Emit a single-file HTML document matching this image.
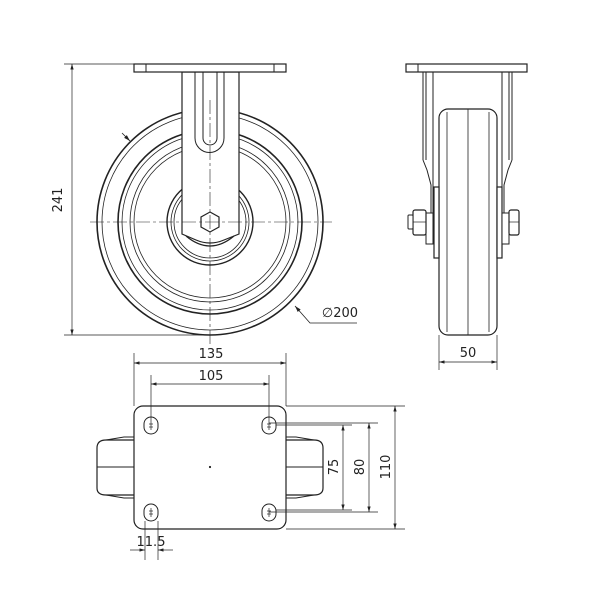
<!DOCTYPE html>
<html><head><meta charset="utf-8"><style>
html,body{margin:0;padding:0;background:#fff;}
svg{display:block;}
text{font-family:"DejaVu Sans","Liberation Sans",sans-serif;font-size:13px;fill:#222;}
</style></head><body>
<svg width="600" height="600" viewBox="0 0 600 600" xmlns="http://www.w3.org/2000/svg">
<defs>
<marker id="a" viewBox="0 0 10 6" refX="10" refY="3" markerWidth="8" markerHeight="5" orient="auto-start-reverse"><path d="M0,0 L10,3 L0,6 z" fill="#222"/></marker>
</defs>
<g fill="none" stroke="#222" stroke-width="1">
<!-- FRONT VIEW -->
<circle cx="210" cy="222" r="113" stroke-width="1.6"/>
<circle cx="210" cy="222" r="108" stroke-width="0.8"/>
<circle cx="210" cy="222" r="92" stroke-width="1.6"/>
<circle cx="210" cy="222" r="88" stroke-width="0.8"/>
<circle cx="210" cy="222" r="80" stroke-width="0.8"/>
<circle cx="210" cy="222" r="76" stroke-width="0.8"/>
<circle cx="210" cy="222" r="43" stroke-width="1.4"/>
<circle cx="210" cy="222" r="39" stroke-width="0.8"/>
<circle cx="210" cy="222" r="36" stroke-width="0.8"/>
<!-- fork (covers wheel) -->
<path d="M182,72 L182,234 L196,240 Q210,246 224,240 L239,234 L239,72 Z" fill="#fff" stroke-width="1.2"/>
<path d="M186,236 Q210,256 234,236" stroke-width="1.2"/>
<path d="M195,72 L195,138 A14.5,14.5 0 0 0 224,138 L224,72" stroke-width="1"/>
<path d="M203,72 L203,138 A7,7 0 0 0 217,138 L217,72" stroke-width="1"/>
<rect x="134" y="64" width="152" height="8" fill="#fff" stroke-width="1.2"/>
<line x1="146" y1="64" x2="146" y2="72"/><line x1="274" y1="64" x2="274" y2="72"/>
<polygon points="210,212 219,217 219,227 210,232 201,227 201,217" fill="#fff" stroke-width="1.2"/>
<!-- center lines -->
<line x1="90" y1="222" x2="332" y2="222" stroke-width="0.6" stroke-dasharray="14,3,3,3"/>
<line x1="210" y1="100" x2="210" y2="345" stroke-width="0.6" stroke-dasharray="14,3,3,3"/>
<!-- 241 dim -->
<line x1="64" y1="64" x2="134" y2="64" stroke-width="0.7"/>
<line x1="64" y1="335" x2="210" y2="335" stroke-width="0.7"/>
<line x1="72" y1="64" x2="72" y2="335" stroke-width="0.7" marker-start="url(#a)" marker-end="url(#a)"/>
<!-- Ø200 leader -->
<line x1="122" y1="133" x2="130" y2="141" stroke-width="0.8" marker-end="url(#a)"/>
<polyline points="295,306 310,323 357,323" stroke-width="0.8" marker-start="url(#a)"/>
<!-- SIDE VIEW -->
<line x1="423" y1="72" x2="423" y2="160"/><line x1="426" y1="72" x2="426" y2="160"/>
<path d="M423,160 L427,170 L431,185 L431,242 L433,242"/>
<line x1="433" y1="72" x2="433" y2="242"/>
<line x1="512" y1="72" x2="512" y2="160"/><line x1="509" y1="72" x2="509" y2="160"/>
<path d="M512,160 L508,170 L504,185 L504,242 L502,242"/>
<line x1="502" y1="72" x2="502" y2="242"/>
<rect x="406" y="64" width="121" height="8" fill="#fff" stroke-width="1.2"/>
<line x1="418" y1="64" x2="418" y2="72"/>
<rect x="439" y="109" width="58" height="226" rx="9" fill="#fff" stroke-width="1.2"/>
<line x1="447" y1="112" x2="447" y2="332" stroke-width="0.8"/>
<line x1="489" y1="112" x2="489" y2="332" stroke-width="0.8"/>
<line x1="468" y1="109" x2="468" y2="335" stroke-width="0.8"/>
<rect x="434" y="187" width="5" height="71" fill="#fff" stroke-width="1.2"/>
<rect x="497" y="187" width="5" height="71" fill="#fff" stroke-width="1.2"/>
<rect x="426" y="213" width="7" height="31" fill="#fff"/>
<rect x="413" y="210" width="13" height="25" rx="2" fill="#fff" stroke-width="1.2"/>
<line x1="413" y1="222" x2="426" y2="222" stroke-width="0.7"/>
<rect x="408" y="215" width="5" height="14" rx="1" fill="#fff"/>
<rect x="502" y="213" width="7" height="31" fill="#fff"/>
<rect x="509" y="210" width="10" height="25" rx="2" fill="#fff" stroke-width="1.2"/>
<line x1="509" y1="222" x2="519" y2="222" stroke-width="0.7"/>
<!-- 50 dim -->
<line x1="439" y1="335" x2="439" y2="370" stroke-width="0.7"/>
<line x1="497" y1="335" x2="497" y2="370" stroke-width="0.7"/>
<line x1="439" y1="362" x2="497" y2="362" stroke-width="0.7" marker-start="url(#a)" marker-end="url(#a)"/>
<!-- BOTTOM VIEW -->
<path d="M134,440 L106,440 Q97,440 97,448 L97,488 Q97,495 106,495 L134,495" stroke-width="1.2"/>
<path d="M106,440 L124,437 L134,437"/><path d="M106,495 L124,498 L134,498"/>
<line x1="97" y1="467" x2="134" y2="467"/>
<path d="M286,440 L314,440 Q323,440 323,448 L323,488 Q323,495 314,495 L286,495" stroke-width="1.2"/>
<path d="M314,440 L296,437 L286,437"/><path d="M314,495 L296,498 L286,498"/>
<line x1="286" y1="467" x2="323" y2="467"/>
<rect x="134" y="406" width="152" height="123" rx="9" fill="#fff" stroke-width="1.2"/>
<g stroke-width="1">
<rect x="144" y="417" width="14" height="17" rx="7"/>
<rect x="262" y="417" width="14" height="17" rx="7"/>
<rect x="144" y="504" width="14" height="17" rx="7"/>
<rect x="262" y="504" width="14" height="17" rx="7"/>
</g>
<g stroke-width="0.7">
<line x1="151" y1="421" x2="151" y2="430"/><line x1="149" y1="424" x2="153" y2="424"/><line x1="149" y1="427" x2="153" y2="427"/>
<line x1="269" y1="421" x2="269" y2="430"/><line x1="267" y1="424" x2="271" y2="424"/><line x1="267" y1="427" x2="271" y2="427"/>
<line x1="151" y1="508" x2="151" y2="517"/><line x1="149" y1="511" x2="153" y2="511"/><line x1="149" y1="514" x2="153" y2="514"/>
<line x1="269" y1="508" x2="269" y2="517"/><line x1="267" y1="511" x2="271" y2="511"/><line x1="267" y1="514" x2="271" y2="514"/>
</g>
<circle cx="210" cy="467" r="0.6" fill="#222"/>
<!-- 135 / 105 -->
<g stroke-width="0.7">
<line x1="134" y1="353" x2="134" y2="406"/><line x1="286" y1="353" x2="286" y2="406"/>
<line x1="134" y1="363" x2="286" y2="363" marker-start="url(#a)" marker-end="url(#a)"/>
<line x1="151" y1="375" x2="151" y2="421"/><line x1="269" y1="375" x2="269" y2="421"/>
<line x1="151" y1="384" x2="269" y2="384" marker-start="url(#a)" marker-end="url(#a)"/>
<!-- 110/80/75 -->
<line x1="286" y1="406" x2="405" y2="406"/><line x1="286" y1="529" x2="405" y2="529"/>
<line x1="395" y1="406" x2="395" y2="529" marker-start="url(#a)" marker-end="url(#a)"/>
<line x1="269" y1="423" x2="378" y2="423"/><line x1="269" y1="512" x2="378" y2="512"/>
<line x1="369" y1="423" x2="369" y2="512" marker-start="url(#a)" marker-end="url(#a)"/>
<line x1="276" y1="425" x2="352" y2="425"/><line x1="276" y1="510" x2="352" y2="510"/>
<line x1="343" y1="425" x2="343" y2="510" marker-start="url(#a)" marker-end="url(#a)"/>
<!-- 11.5 -->
<line x1="145" y1="521" x2="145" y2="560"/><line x1="158" y1="521" x2="158" y2="560"/>
<line x1="130" y1="550" x2="145" y2="550" marker-end="url(#a)"/>
<line x1="173" y1="550" x2="158" y2="550" marker-end="url(#a)"/>
</g>
</g>
<text x="62" y="200" text-anchor="middle" transform="rotate(-90 62 200)">241</text>
<text x="340" y="317" text-anchor="middle">∅200</text>
<text x="468" y="357" text-anchor="middle">50</text>
<text x="211" y="358" text-anchor="middle">135</text>
<text x="211" y="380" text-anchor="middle">105</text>
<text x="151" y="546" text-anchor="middle">11.5</text>
<text x="338" y="467" text-anchor="middle" transform="rotate(-90 338 467)">75</text>
<text x="364" y="467" text-anchor="middle" transform="rotate(-90 364 467)">80</text>
<text x="390" y="467" text-anchor="middle" transform="rotate(-90 390 467)">110</text>
</svg>
</body></html>
